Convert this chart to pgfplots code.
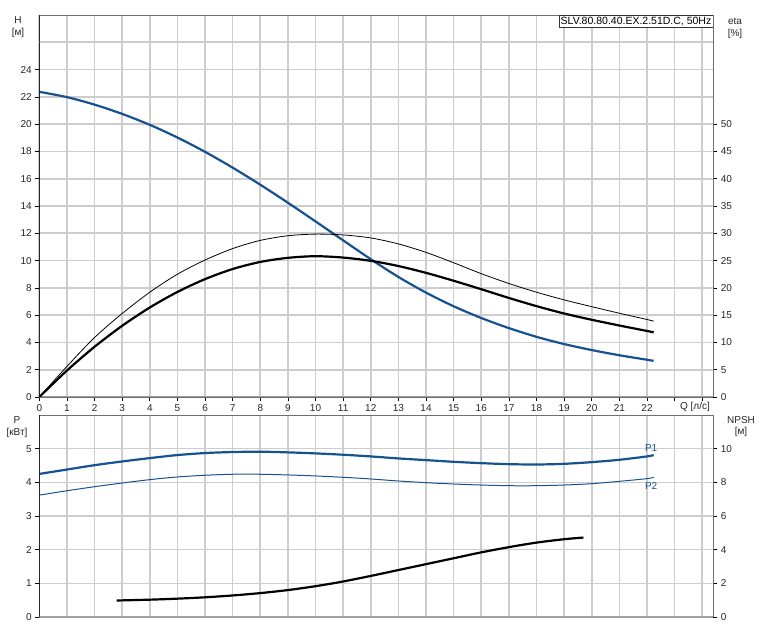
\documentclass[border=0pt]{standalone}
\usepackage{fontspec}
\setmainfont{Liberation Sans}
\usepackage{pgfplots}
\usepackage{pgfplotstable}
\pgfplotsset{compat=1.18}

\definecolor{pumpblue}{RGB}{22,82,145}
\definecolor{gridgray}{RGB}{205,205,205}
\definecolor{framegray}{RGB}{110,110,110}

% head H [m] over flow Q [l/s]
\pgfplotstableread{
Q H
0 22.37
1 21.98
2 21.43
3 20.75
4 19.95
5 19.02
6 17.97
7 16.81
8 15.56
9 14.24
10 12.87
11 11.48
12 10.10
13 8.80
14 7.65
15 6.65
16 5.79
17 5.05
18 4.41
19 3.88
20 3.44
21 3.06
22 2.73
22.24 2.65
}\headdata

% efficiencies [%]: thin and thick curve
\pgfplotstableread{
Q etaA etaB
0 0 0
1 5.6 4.85
2 10.9 9.2
3 15.3 13.05
4 19.2 16.4
5 22.5 19.25
6 25.1 21.6
7 27.2 23.45
8 28.7 24.75
9 29.55 25.5
10 29.85 25.8
11 29.7 25.55
12 29.15 24.95
13 28.05 24.0
14 26.5 22.75
15 24.6 21.3
16 22.6 19.75
17 20.8 18.15
18 19.2 16.65
19 17.8 15.3
20 16.55 14.15
21 15.35 13.1
22 14.2 12.1
22.24 13.9 11.85
}\etadata

% power P1, P2 [kW]
\pgfplotstableread{
Q P1 P2
0 4.25 3.62
1 4.38 3.75
2 4.51 3.87
3 4.62 3.98
4 4.72 4.08
5 4.81 4.16
6 4.87 4.21
7 4.90 4.24
8 4.91 4.24
9 4.89 4.22
10 4.86 4.19
11 4.82 4.15
12 4.77 4.10
13 4.71 4.04
14 4.66 3.99
15 4.61 3.95
16 4.57 3.92
17 4.54 3.90
18 4.53 3.90
19 4.55 3.92
20 4.60 3.96
21 4.67 4.03
22 4.77 4.11
22.24 4.81 4.15
}\powerdata

% NPSH [m]
\pgfplotstableread{
Q N
2.8 0.98
4 1.03
5 1.09
6 1.17
7 1.28
8 1.42
9 1.60
10 1.83
11 2.11
12 2.44
13 2.79
14 3.14
15 3.49
16 3.84
17 4.15
18 4.42
19 4.62
19.7 4.72
}\npshdata

\pgfplotsset{
  pump/.style={
    scale only axis, width=674pt,
    xmin=0, xmax=24.4,
    font=\fontsize{10}{12}\selectfont,
    /pgf/number format/assume math mode=true,
    tick label style={text=black!85},
    axis line style={framegray, line width=0.8pt},
    tick align=outside, major tick length=4pt,
    tick style={black, line width=0.6pt},
    major grid style={gridgray, line width=1.6pt},
    xtick={0,...,24},
  },
}

\begin{document}
\begin{tikzpicture}
\path[use as bounding box] (0pt,0pt) rectangle (760pt,627pt);

% ---- upper panel: H and eta ----
\begin{axis}[pump, height=382pt, at={(39.3pt,230pt)}, anchor=south west,
    ymin=0, ymax=28, ytick={0,2,...,24},
    extra y ticks={26}, extra y tick labels={},
    extra y tick style={grid=major, tick style={draw=none}},
    xticklabels={0,1,2,3,4,5,6,7,8,9,10,11,12,13,14,15,16,17,18,19,20,21,22,{},{}},
    xtick pos=bottom, ytick pos=left, grid=major]
  \addplot[pumpblue, line width=2.2pt, smooth] table[x=Q, y=H] {\headdata};
  \draw[gray!75, line width=1.8pt] (rel axis cs:0,0) -- (rel axis cs:1,0);
  \draw[black, line width=0.9pt] (rel axis cs:0,0) -- (rel axis cs:0,1);
  \node[draw=black!80, fill=white, inner sep=1.8pt, anchor=north east,
    font=\fontsize{10.5}{12}\selectfont]
    at (rel axis cs:1,1) {SLV.80.80.40.EX.2.51D.C, 50Hz};
\end{axis}
\begin{axis}[pump, height=382pt, at={(39.3pt,230pt)}, anchor=south west,
    ymin=0, ymax=70, ytick={0,5,...,50},
    axis x line=none, axis y line*=right]
  \addplot[black, line width=0.8pt, smooth] table[x=Q, y=etaA] {\etadata};
  \addplot[black, line width=2.2pt, smooth] table[x=Q, y=etaB] {\etadata};
\end{axis}

% ---- lower panel: P and NPSH ----
\begin{axis}[pump, height=202pt, at={(39.3pt,10pt)}, anchor=south west,
    ymin=0, ymax=6, ytick={0,...,5},
    xticklabels={}, xtick style={draw=none},
    ytick pos=left, grid=major]
  \addplot[pumpblue, line width=2.2pt, smooth] table[x=Q, y=P1] {\powerdata};
  \addplot[pumpblue, line width=1.0pt, smooth] table[x=Q, y=P2] {\powerdata};
  \node[text=pumpblue] at (axis cs:22.15,5.02) {P1};
  \node[text=pumpblue] at (axis cs:22.15,3.88) {P2};
  \draw[gray!75, line width=1.8pt] (rel axis cs:0,0) -- (rel axis cs:1,0);
  \draw[black, line width=0.9pt] (rel axis cs:0,0) -- (rel axis cs:0,1);
\end{axis}
\begin{axis}[pump, height=202pt, at={(39.3pt,10pt)}, anchor=south west,
    ymin=0, ymax=12, ytick={0,2,...,10},
    axis x line=none, axis y line*=right]
  \addplot[black, line width=2.2pt, smooth] table[x=Q, y=N] {\npshdata};
\end{axis}

% ---- axis titles ----
\begin{scope}[font=\fontsize{10}{12}\selectfont, text=black!85]
  \node at (18pt,607pt) {H};
  \node at (18pt,594pt) {[м]};
  \node at (735pt,606pt) {eta};
  \node at (735pt,593pt) {[\%]};
  \node at (17pt,207pt) {P};
  \node at (17pt,194pt) {[кВт]};
  \node at (741pt,207pt) {NPSH};
  \node at (741pt,195pt) {[м]};
  \node at (695pt,220.3pt) {Q [л/с]};
\end{scope}
\end{tikzpicture}
\end{document}
